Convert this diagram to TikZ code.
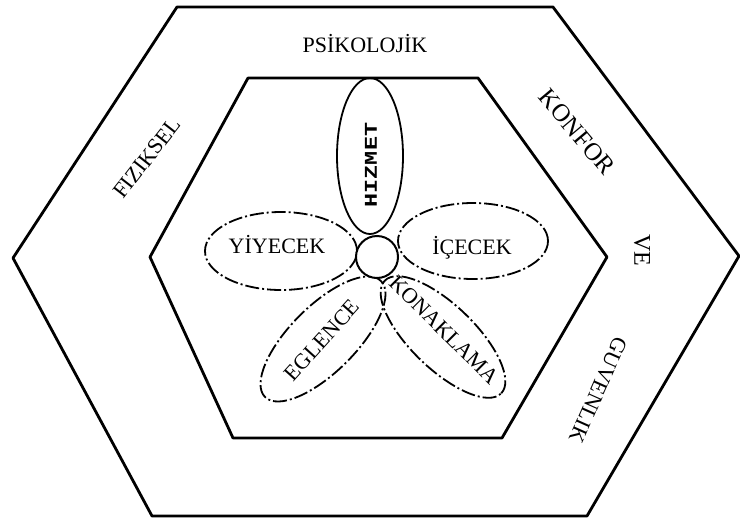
\documentclass[tikz,border=0pt]{standalone}
\usepackage{fontspec}
\setmainfont{Liberation Serif}
\newfontfamily\slabfont{Liberation Mono}
\usetikzlibrary{shapes.geometric}

\begin{document}
\begin{tikzpicture}[
    x=1pt, y=-1pt,
    hexline/.style={line width=2.8pt, line join=round},
    petal/.style={ellipse, draw, line width=1.8pt, inner sep=0pt},
    dashpetal/.style={petal, dash pattern=on 14pt off 3pt on 2pt off 3pt},
    word/.style={inner sep=0pt, font=\fontsize{22}{26}\selectfont},
]
\useasboundingbox (0,0) rectangle (740,520);

% hexagons
\draw[hexline] (177,7) -- (553,7) -- (739,256) -- (587,516) -- (152,516) -- (13,258) -- cycle;
\draw[hexline] (248,78) -- (478,78) -- (607,257) -- (502,438) -- (233,438) -- (150,257) -- cycle;

% outer ring labels
\node[word] (psiko) at (365,44) {PSİKOLOJİK};
\node[word, rotate=52] (fizik) at (147,158) {FIZIKSEL};
\node[word, rotate=-50, font=\fontsize{25}{28}\selectfont] (konfor) at (577,132) {KONFOR};
\node[word, rotate=-90, font=\fontsize{24}{28}\selectfont] (ve) at (642,250) {VE};
\node[word, rotate=-114] (guven) at (598,390) {GUVENLIK};

% petals
\node[petal, minimum width=66pt, minimum height=156pt] (hizmet) at (370,156) {};
\node[dashpetal, minimum width=152pt, minimum height=78pt] (yiyecek) at (281,251) {};
\node[dashpetal, minimum width=150pt, minimum height=76pt] (icecek) at (473,241) {};
\node[dashpetal, rotate=45, minimum width=164pt, minimum height=66pt] (eglence) at (323,339) {};
\node[dashpetal, rotate=-44, minimum width=162pt, minimum height=64pt] (konak) at (443,337) {};
\node[circle, draw, fill=white, line width=2pt, minimum size=42pt, inner sep=0pt] (hub) at (377,257) {};

\node[inner sep=0pt, rotate=90] (hizmetT) at (371,165)
    {\scalebox{1.3}[1]{\fontsize{18}{20}\slabfont\bfseries HIZMET}};
\node[word] (yiyecekT) at (277,245) {YİYECEK};
\node[word] (icecekT) at (472,248) {İÇECEK};
\node[word, rotate=48] (eglenceT) at (322,340) {EGLENCE};
\node[word, rotate=-45] (konakT) at (444,330) {KONAKLAMA};
\end{tikzpicture}
\end{document}
